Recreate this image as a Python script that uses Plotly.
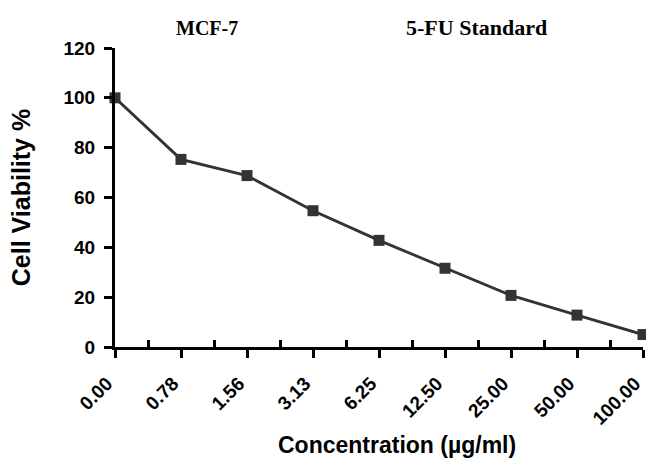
import plotly.graph_objects as go

concentrations = ["0.00", "0.78", "1.56", "3.13", "6.25", "12.50", "25.00", "50.00", "100.00"]
viability = [100.0, 75.3, 68.8, 54.7, 42.8, 31.6, 20.7, 12.8, 5.0]
y_ticks = [0, 20, 40, 60, 80, 100, 120]
panel_labels = ["MCF-7", "5-FU Standard"]
x_title = "Concentration (µg/ml)"
y_title = "Cell Viability %"

x_idx = list(range(len(concentrations)))

fig = go.Figure()
fig.add_trace(go.Scatter(
    x=x_idx, y=viability, mode="lines+markers",
    line=dict(color="#333333", width=2.8),
    marker=dict(symbol="square", size=11, color="#333333"),
    cliponaxis=False, showlegend=False,
))

sans = "Liberation Sans, Arial, sans-serif"
serif = "Liberation Serif, Times New Roman, serif"

fig.update_layout(
    width=646, height=460, autosize=False,
    margin=dict(l=115, r=3, t=48, b=113),
    paper_bgcolor="white", plot_bgcolor="white",
    font=dict(family=sans, color="black"),
)
fig.update_xaxes(
    range=[0, len(concentrations) - 1], automargin=False,
    tickmode="array", tickvals=x_idx, ticktext=concentrations,
    tickangle=-45, tickfont=dict(family=sans, size=19, weight="bold"),
    ticklabeloverflow="allow", ticklabelshift=-8, ticklabelstandoff=7,
    ticks="outside", ticklen=8, tickwidth=3, tickcolor="black",
    showline=True, linecolor="black", linewidth=3,
    showgrid=False, zeroline=False,
    minor=dict(tickmode="array", tickvals=[i + 0.5 for i in x_idx[:-1]],
               ticks="inside", ticklen=7, tickwidth=3, tickcolor="black", showgrid=False),
)
fig.update_yaxes(
    range=[0, 120], automargin=False, tickmode="array", tickvals=y_ticks,
    tickfont=dict(family=sans, size=19, weight="bold"), ticklabelstandoff=5,
    ticks="outside", ticklen=8, tickwidth=3, tickcolor="black",
    showline=True, linecolor="black", linewidth=3,
    showgrid=False, zeroline=False,
    title=dict(text=y_title, font=dict(family=sans, size=25, weight="bold"), standoff=26),
)

fig.add_annotation(text=x_title, xref="paper", yref="paper", x=0.534, y=-0.328,
                   showarrow=False, font=dict(family=sans, size=23, weight="bold"),
                   xanchor="center", yanchor="middle")

for label, xp, fs in zip(panel_labels, [0.175, 0.685], [20, 22]):
    fig.add_annotation(text=label, xref="paper", yref="paper", x=xp, y=1.067,
                       showarrow=False, font=dict(family=serif, size=fs, weight="bold"),
                       xanchor="center", yanchor="middle")

fig.write_html(
    "out.html",
    config={"displayModeBar": False, "responsive": False},
    post_script=("document.documentElement.style.margin='0';document.body.style.margin='0';"
                 "document.documentElement.style.overflow='hidden';document.body.style.overflow='hidden';"),
)
